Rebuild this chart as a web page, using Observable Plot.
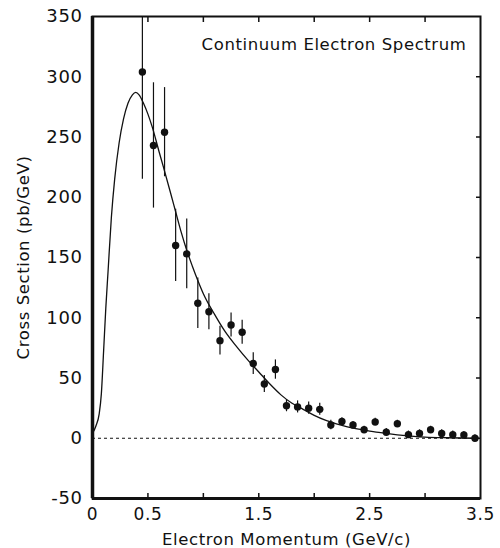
<!DOCTYPE html>
<html>
<head>
<meta charset="utf-8">
<script src="https://cdn.jsdelivr.net/npm/d3@7"></script>
<script src="https://cdn.jsdelivr.net/npm/@observablehq/plot@0.6"></script>
<style>
  html, body { margin: 0; padding: 0; background: #fff; }
  #chart svg { display: block; }
  #chart svg text { letter-spacing: 0.6px; }
</style>
</head>
<body>
<div id="chart"></div>
<script>
// Measured data points (electron momentum GeV/c, cross section pb/GeV, error)
const momentum = [0.45, 0.55, 0.65, 0.75, 0.85, 0.95, 1.05, 1.15, 1.25, 1.35,
                  1.45, 1.55, 1.65, 1.75, 1.85, 1.95, 2.05, 2.15, 2.25, 2.35,
                  2.45, 2.55, 2.65, 2.75, 2.85, 2.95, 3.05, 3.15, 3.25, 3.35, 3.45];
const crossSection = [304, 243, 254, 160, 153, 112, 105, 81, 94, 88,
                      62, 45, 57, 27, 26, 25, 24, 11, 14, 11,
                      7, 13.5, 5, 12, 3, 4, 7, 4, 3, 2.7, 0];
const errors = [89, 52, 37, 30, 29, 21, 15, 12, 10, 10,
                9, 7, 8, 5, 5, 5, 5, 4, 3, 3,
                3, 3, 3, 3, 3, 3, 3, 3, 3, 3, 3];

// Fitted curve
const curveX = [0, 0.03, 0.06, 0.08, 0.1, 0.12, 0.14, 0.17, 0.2, 0.24, 0.28, 0.32, 0.36, 0.39,
                0.42, 0.46, 0.5, 0.54, 0.6, 0.64, 0.7, 0.75, 0.8, 0.85, 0.9, 0.95, 1.0,
                1.1, 1.2, 1.3, 1.4, 1.5, 1.6, 1.7, 1.8, 1.9, 2.0, 2.1, 2.2, 2.3, 2.4,
                2.5, 2.6, 2.7, 2.8, 2.9, 3.0, 3.2, 3.45];
const curveY = [4, 10, 20, 37, 72, 108, 138, 183, 215, 245, 265, 278, 285, 287,
                285, 278, 269, 258, 238, 225, 205, 188, 171, 156, 143, 131, 120,
                103, 88, 76, 65, 55, 45, 36, 29, 24, 19, 15, 12, 9.5, 7.5,
                6, 4.6, 3.4, 2.4, 1.6, 1, 0.4, 0];

// Axis ticks
const xTickLabels = [0, 0.5, 1.5, 2.5, 3.5];
const xMinorTicks = [0.5, 1, 1.5, 2, 2.5, 3];
const yTicks = [-50, 0, 50, 100, 150, 200, 250, 300, 350];

const points = momentum.map((x, i) => ({x, y: crossSection[i], e: errors[i]}));
const curve = curveX.map((x, i) => ({x, y: curveY[i]}));

const font = "'DejaVu Sans', sans-serif";

const chart = Plot.plot({
  width: 500,
  height: 548,
  marginLeft: 92,
  marginRight: 20,
  marginTop: 16,
  marginBottom: 50,
  style: {fontFamily: font, color: "#111", background: "#fff"},
  x: {domain: [0, 3.5]},
  y: {domain: [-50, 350]},
  marks: [
    Plot.ruleY([0], {stroke: "#111", strokeWidth: 1, strokeDasharray: "3,3"}),
    Plot.line(curve, {x: "x", y: "y", curve: "monotone-x", stroke: "#111", strokeWidth: 1.3}),
    Plot.ruleX(points, {x: "x", y1: d => d.y - d.e, y2: d => d.y + d.e, stroke: "#111", strokeWidth: 1.2, clip: true}),
    Plot.dot(points, {x: "x", y: "y", r: 3.7, fill: "#111", stroke: "none"}),
    Plot.frame({stroke: "#111", strokeWidth: 2}),
    Plot.ruleX([0], {stroke: "#111", strokeWidth: 3.5}),
    Plot.ruleY([-50], {stroke: "#111", strokeWidth: 3}),
    Plot.axisX({ticks: xTickLabels, tickSize: 0, tickPadding: 9, fontSize: 17, label: null,
                tickFormat: d => String(d)}),
    Plot.axisX({ticks: xMinorTicks, tickSize: -5, tickFormat: () => "", label: null, strokeWidth: 1.5}),
    Plot.axisX({anchor: "top", ticks: xMinorTicks, tickSize: -5, tickFormat: () => "", label: null, strokeWidth: 1.5}),
    Plot.axisY({ticks: yTicks, tickSize: 0, tickPadding: 10, fontSize: 18, label: null,
                tickFormat: d => String(d)}),
    Plot.axisY({anchor: "right", ticks: yTicks.slice(1, -1), tickSize: -5, tickFormat: () => "", label: null, strokeWidth: 1.5}),
    Plot.text(["Continuum Electron Spectrum"], {frameAnchor: "top-right", dx: -14, dy: 28, textAnchor: "end", lineAnchor: "middle", fontSize: 16.5, fill: "#111"}),
    Plot.text(["Cross Section (pb/GeV)"], {frameAnchor: "left", dx: -69, rotate: -90, textAnchor: "middle", lineAnchor: "middle", fontSize: 16.5, fill: "#111"}),
    Plot.text(["Electron Momentum (GeV/c)"], {frameAnchor: "bottom", dy: 41, textAnchor: "middle", lineAnchor: "middle", fontSize: 16.5, fill: "#111"})
  ]
});

document.getElementById("chart").appendChild(chart);
</script>
</body>
</html>
